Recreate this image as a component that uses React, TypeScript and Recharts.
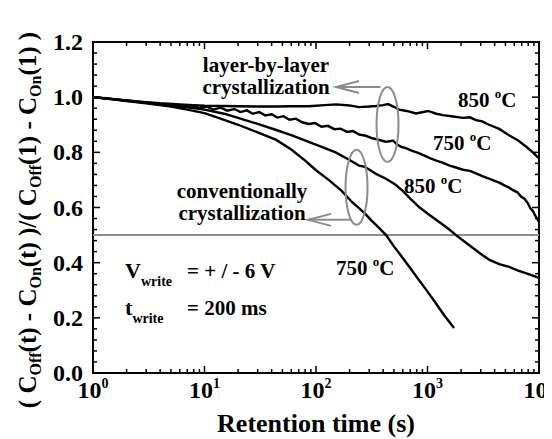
import {
  LineChart,
  Line,
  XAxis,
  YAxis,
  ReferenceArea,
  ReferenceLine,
  ReferenceDot
} from "recharts";

// axis ticks
const decades = [1, 10, 100, 1000, 10000];
const decadeExp = ["0", "1", "2", "3", "4"];
const minorSteps = [2, 3, 4, 5, 6, 7, 8, 9];
const yMajorLabels = ["0.0", "0.2", "0.4", "0.6", "0.8", "1.0", "1.2"];

// layer-by-layer, 850 C
const lbl850T = [1, 1.5, 2, 3, 4, 6, 8, 10, 15, 20, 30, 44, 60, 86, 120, 151, 200, 243, 300, 345, 400, 443, 500, 555, 650, 789, 1010, 1200, 1376, 1700, 2080, 2400, 2720, 3100, 3560, 4400, 5380, 6500, 7640, 8800, 10000];
const lbl850Y = [1.0, 0.993, 0.988, 0.982, 0.978, 0.974, 0.971, 0.969, 0.968, 0.967, 0.966, 0.966, 0.967, 0.967, 0.971, 0.974, 0.97, 0.964, 0.966, 0.968, 0.971, 0.975, 0.965, 0.955, 0.95, 0.941, 0.95, 0.94, 0.935, 0.93, 0.925, 0.927, 0.917, 0.912, 0.9, 0.885, 0.862, 0.843, 0.821, 0.8, 0.778];

// layer-by-layer, 750 C
const lbl750T = [1, 1.3, 1.7, 2.2, 2.8, 3.5, 4.3, 5.2, 6.3, 7.5, 9, 10.5, 12, 14, 16, 18.5, 21, 24, 27, 31, 35, 40, 45, 51, 58, 66, 75, 86, 98, 112, 128, 146, 166, 190, 215, 245, 280, 320, 360, 400, 425, 455, 490, 530, 580, 640, 720, 810, 920, 1050, 1200, 1380, 1580, 1800, 2080, 2400, 2720, 3100, 3500, 3900, 4400, 4900, 5400, 5900, 6400, 6900, 7400, 7900, 8400, 8800, 9200, 9600, 10000];
const lbl750Y = [1.0, 0.996, 0.991, 0.986, 0.981, 0.978, 0.972, 0.975, 0.966, 0.97, 0.961, 0.966, 0.955, 0.962, 0.951, 0.957, 0.946, 0.952, 0.94, 0.946, 0.934, 0.938, 0.926, 0.931, 0.918, 0.922, 0.909, 0.903, 0.906, 0.893, 0.896, 0.884, 0.886, 0.874, 0.877, 0.864, 0.86, 0.851, 0.846, 0.841, 0.838, 0.84, 0.843, 0.829, 0.82, 0.815, 0.806, 0.799, 0.79, 0.779, 0.77, 0.762, 0.752, 0.745, 0.737, 0.733, 0.724, 0.714, 0.706, 0.698, 0.69, 0.68, 0.672, 0.662, 0.655, 0.64, 0.632, 0.617, 0.596, 0.588, 0.572, 0.56, 0.548];

// conventional, 850 C
const conv850T = [1, 1.5, 2, 3, 5, 7, 10, 15, 20, 30, 44, 60, 86, 120, 150, 200, 243, 270, 300, 345, 420, 510, 600, 700, 850, 1050, 1300, 1550, 1800, 2200, 2700, 3100, 3600, 4400, 5400, 6400, 7600, 8800, 10000];
const conv850Y = [1.0, 0.993, 0.987, 0.98, 0.97, 0.963, 0.955, 0.94, 0.925, 0.903, 0.881, 0.862, 0.838, 0.815, 0.8, 0.772, 0.752, 0.748, 0.738, 0.722, 0.705, 0.684, 0.66, 0.632, 0.6, 0.572, 0.545, 0.522, 0.5, 0.473, 0.446, 0.428, 0.41, 0.395, 0.385, 0.372, 0.362, 0.353, 0.345];

// conventional, 750 C
const conv750T = [1, 1.5, 2, 3, 5, 7, 10, 15, 20, 30, 44, 60, 80, 100, 130, 170, 210, 243, 280, 310, 360, 425, 500, 600, 686, 800, 960, 1150, 1400, 1730];
const conv750Y = [1.0, 0.992, 0.986, 0.978, 0.966, 0.955, 0.942, 0.918, 0.9, 0.872, 0.845, 0.81, 0.77, 0.735, 0.7, 0.66, 0.62, 0.598, 0.575, 0.555, 0.53, 0.5, 0.459, 0.417, 0.385, 0.348, 0.305, 0.261, 0.211, 0.163];

const rows = (t: number[], y: number[]) => t.map((v, i) => ({ t: v, y: y[i] }));

const xTicks = decades.flatMap((d, i) => (i < decades.length - 1 ? [d, ...minorSteps.map((m) => m * d)] : [d]));
const yTicks = Array.from({ length: 31 }, (_, i) => Math.round(i * 4) / 100);

const W = 544;
const H = 431;
const PL = 85;
const PR = 531;
const PT = 34;
const PB = 365;
const FONT = "Liberation Serif, DejaVu Serif, serif";
const GRAY = "#8c8c8c";
const txt = { fontFamily: FONT, fontWeight: 700 as const, fill: "#000" };

function XTick(props: any) {
  const { x, payload } = props;
  const idx = decades.indexOf(payload.value);
  const len = idx >= 0 ? 7 : 4;
  return (
    <g>
      <line x1={x} x2={x} y1={PB} y2={PB - len} stroke="#000" strokeWidth={1.5} />
      <line x1={x} x2={x} y1={PT} y2={PT + len} stroke="#000" strokeWidth={1.5} />
      {idx >= 0 && (
        <text x={x} y={PB + 25} textAnchor="middle" style={{ ...txt, fontSize: 24 }}>
          10
          <tspan dy={-10} style={{ fontSize: 14 }}>
            {decadeExp[idx]}
          </tspan>
        </text>
      )}
    </g>
  );
}

function YTick(props: any) {
  const { y, payload } = props;
  const k = Math.round(payload.value * 100);
  const major = k % 20 === 0;
  const len = major ? 7 : 4;
  return (
    <g>
      <line x1={PL} x2={PL + len} y1={y} y2={y} stroke="#000" strokeWidth={1.5} />
      <line x1={PR} x2={PR - len} y1={y} y2={y} stroke="#000" strokeWidth={1.5} />
      {major && (
        <text x={PL - 10} y={y + 8} textAnchor="end" style={{ ...txt, fontSize: 24 }}>
          {yMajorLabels[k / 20]}
        </text>
      )}
    </g>
  );
}

function YTitle() {
  const sub = { fontSize: 16 };
  return (
    <text transform={`translate(28, 212) rotate(-90)`} textAnchor="middle" style={{ ...txt, fontSize: 25 }}>
      ( C<tspan style={sub} dy={5}>Off</tspan>
      <tspan dy={-5}>(t) - C</tspan>
      <tspan style={sub} dy={5}>On</tspan>
      <tspan dy={-5}>(t) )/( C</tspan>
      <tspan style={sub} dy={5}>Off</tspan>
      <tspan dy={-5}>(1) - C</tspan>
      <tspan style={sub} dy={5}>On</tspan>
      <tspan dy={-5}>(1) )</tspan>
    </text>
  );
}

function XTitle() {
  return (
    <text x={(PL + PR) / 2} y={PB + 59} textAnchor="middle" style={{ ...txt, fontSize: 26 }}>
      Retention time (s)
    </text>
  );
}

function Temp({ cx, cy, label }: any) {
  return (
    <text x={cx} y={cy} style={{ ...txt, fontSize: 21 }}>
      {label} <tspan dy={-9} style={{ fontSize: 13 }}>o</tspan>
      <tspan dy={9}>C</tspan>
    </text>
  );
}

function Callout({ cx, cy, lines, textDx, textDy, tipDx, tipDy, endDx }: any) {
  const tx = cx + tipDx;
  const ty = cy + tipDy;
  return (
    <g>
      <ellipse cx={cx} cy={cy} rx={11} ry={37.5} fill="none" stroke={GRAY} strokeWidth={2} />
      <line x1={tx} y1={ty} x2={cx + endDx} y2={ty} stroke={GRAY} strokeWidth={2} />
      <polyline points={`${tx + 23},${ty - 6} ${tx},${ty} ${tx + 23},${ty + 6}`} fill="none" stroke={GRAY} strokeWidth={2} />
      {lines.map((s: string, i: number) => (
        <text key={s + i} x={cx + textDx} y={cy + textDy + i * 22} textAnchor="middle" style={{ ...txt, fontSize: 21 }}>
          {s}
        </text>
      ))}
    </g>
  );
}

function WriteText({ cx, cy, sym, rest }: any) {
  return (
    <text x={cx} y={cy} style={{ ...txt, fontSize: 22 }}>
      {sym}
      <tspan dy={8} style={{ fontSize: 14 }}>write</tspan>
      <tspan dy={-8} x={cx + 62} style={{ fontSize: 21 }}>{rest}</tspan>
    </text>
  );
}

export default function App() {
  return (
    <LineChart width={W} height={H} margin={{ top: PT, right: W - PR, bottom: 0, left: 0 }}>
      <XAxis
        dataKey="t"
        type="number"
        scale="log"
        domain={[1, 10000]}
        allowDataOverflow
        ticks={xTicks}
        interval={0}
        tick={<XTick />}
        tickLine={false}
        tickSize={0}
        tickMargin={0}
        axisLine={false}
        height={H - PB}
        label={{ content: () => <XTitle /> }}
      />
      <YAxis
        type="number"
        domain={[0, 1.2]}
        allowDataOverflow
        ticks={yTicks}
        interval={0}
        tick={<YTick />}
        tickLine={false}
        tickSize={0}
        tickMargin={0}
        axisLine={false}
        width={PL}
        label={{ content: () => <YTitle /> }}
      />
      <ReferenceLine y={0.5} stroke={GRAY} strokeWidth={2} />
      <Line data={rows(lbl850T, lbl850Y)} dataKey="y" type="linear" dot={false} stroke="#000" strokeWidth={2.4} isAnimationActive={false} />
      <Line data={rows(lbl750T, lbl750Y)} dataKey="y" type="linear" dot={false} stroke="#000" strokeWidth={2.4} isAnimationActive={false} />
      <Line data={rows(conv850T, conv850Y)} dataKey="y" type="linear" dot={false} stroke="#000" strokeWidth={2.4} isAnimationActive={false} />
      <Line data={rows(conv750T, conv750Y)} dataKey="y" type="linear" dot={false} stroke="#000" strokeWidth={2.4} isAnimationActive={false} />
      <ReferenceArea x1={1} x2={10000} y1={0} y2={1.2} fill="none" stroke="#000" strokeWidth={2} />
      <ReferenceDot
        x={438}
        y={0.901}
        r={0}
        shape={(p: any) => (
          <Callout cx={p.cx} cy={p.cy} lines={["layer-by-layer", "crystallization"]} textDx={-121.5} textDy={-52.5} tipDx={-51.5} tipDy={-37.5} endDx={-7} />
        )}
      />
      <ReferenceDot
        x={231}
        y={0.673}
        r={0}
        shape={(p: any) => (
          <Callout cx={p.cx} cy={p.cy} lines={["conventionally", "crystallization"]} textDx={-114.5} textDy={10.5} tipDx={-48.5} tipDy={32.5} endDx={-5.5} />
        )}
      />
      <ReferenceDot x={1877} y={0.9645} r={0} shape={(p: any) => <Temp cx={p.cx} cy={p.cy} label="850" />} />
      <ReferenceDot x={1120} y={0.8086} r={0} shape={(p: any) => <Temp cx={p.cx} cy={p.cy} label="750" />} />
      <ReferenceDot x={615} y={0.6526} r={0} shape={(p: any) => <Temp cx={p.cx} cy={p.cy} label="850" />} />
      <ReferenceDot x={151} y={0.3553} r={0} shape={(p: any) => <Temp cx={p.cx} cy={p.cy} label="750" />} />
      <ReferenceDot x={1.94} y={0.3445} r={0} shape={(p: any) => <WriteText cx={p.cx} cy={p.cy} sym="V" rest="= + / - 6 V" />} />
      <ReferenceDot x={1.94} y={0.2103} r={0} shape={(p: any) => <WriteText cx={p.cx} cy={p.cy} sym="t" rest="= 200 ms" />} />
    </LineChart>
  );
}
